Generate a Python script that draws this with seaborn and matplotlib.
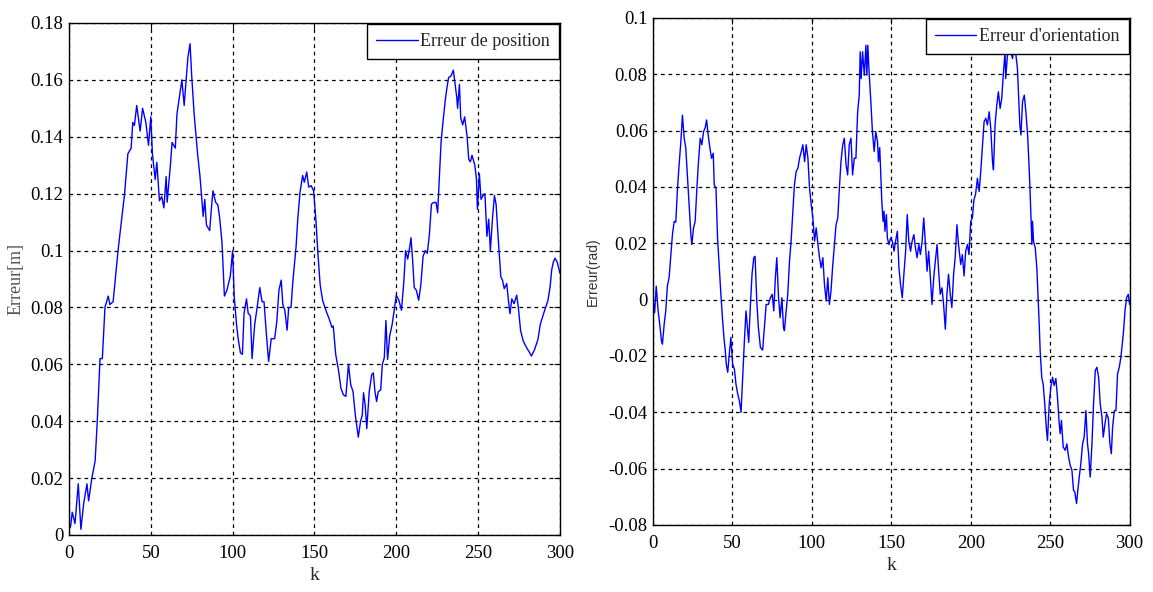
import numpy as np
import pandas as pd
import matplotlib
matplotlib.use('Agg')
import matplotlib.pyplot as plt
import seaborn as sns

# Erreur de position
k_pos = [0, 1, 2, 3.7, 5.7, 7.3, 9, 11, 12, 14, 16, 17.3, 19, 20.4, 22, 24, 25, 27, 30, 32,
         34, 36, 38, 39, 40, 41.4, 43.5, 45, 47, 48.6, 50, 51, 52.7, 53.7, 55.3, 56.7, 58, 59.4, 60, 62,
         63, 65, 66, 67.5, 69, 70.4, 71.6, 72.7, 74, 75, 76.5, 78.6, 80, 81, 82, 83, 84, 86, 87, 88,
         89.6, 91, 92, 93.5, 95, 96.5, 98.6, 100, 101, 102.4, 103.4, 104.8, 106, 107, 108.5, 109.5, 110.9, 111.9, 113.5, 115,
         116.6, 118, 119.2, 120.6, 122, 123.6, 125.7, 127, 128.3, 129.7, 130.7, 131.9, 133.3, 134.3, 135.7, 136.8, 138.8, 139.8, 141.2, 142.8,
         143.8, 145.3, 146.5, 148, 149.5, 151, 152, 153.5, 155, 157, 159, 160.7, 161.5, 163, 164.8, 166.2, 167.7, 169.2, 170.8, 172.2,
         173.6, 175, 176.8, 178.2, 179.2, 180, 181, 182, 183.5, 185, 186, 187, 188, 189, 190.5, 191.5, 192.7, 193.7, 194.7, 196,
         197.5, 198.5, 200, 201.6, 203.2, 204.7, 205.7, 207, 208.3, 209, 210, 211, 212.3, 213.7, 215, 216.4, 217.8, 219, 220.3, 221.5,
         222.9, 224.3, 225.3, 226.3, 227.4, 228.6, 230, 231, 232, 233.5, 234.9, 235.7, 237, 237.5, 238.6, 239.4, 240.6, 241.8, 243.3, 244.3,
         245.3, 246.3, 248, 249, 249.6, 250.8, 251.8, 253, 254.2, 255.4, 256.5, 257.5, 258.9, 260, 261, 262.5, 263.9, 264.9, 266, 267.5,
         269, 269.5, 270.6, 272, 273.6, 274.6, 276, 277.6, 279.6, 281.6, 282.6, 284.6, 286.6, 288, 289.7, 291.3, 292.7, 294, 295, 296,
         297, 298.3, 299.3, 300]
err_pos = [0.002, 0.003, 0.008, 0.004, 0.018, 0.002, 0.011, 0.018, 0.012, 0.020, 0.026, 0.040, 0.062, 0.062, 0.080, 0.084, 0.081, 0.082, 0.100, 0.110,
           0.120, 0.134, 0.136, 0.145, 0.144, 0.151, 0.142, 0.150, 0.145, 0.137, 0.147, 0.134, 0.125, 0.131, 0.1175, 0.119, 0.115, 0.126, 0.117, 0.130,
           0.138, 0.136, 0.148, 0.154, 0.160, 0.151, 0.160, 0.168, 0.1727, 0.1615, 0.148, 0.134, 0.1265, 0.1195, 0.112, 0.118, 0.109, 0.107, 0.1145, 0.121,
           0.117, 0.116, 0.112, 0.103, 0.084, 0.086, 0.091, 0.100, 0.0837, 0.074, 0.069, 0.064, 0.0635, 0.078, 0.083, 0.078, 0.077, 0.062, 0.074, 0.080,
           0.087, 0.082, 0.082, 0.071, 0.061, 0.069, 0.069, 0.075, 0.086, 0.0896, 0.081, 0.079, 0.072, 0.080, 0.080, 0.089, 0.1015, 0.111, 0.1205, 0.1264,
           0.124, 0.1276, 0.1223, 0.1228, 0.121, 0.110, 0.100, 0.088, 0.0825, 0.079, 0.076, 0.073, 0.0735, 0.0635, 0.0576, 0.0516, 0.0493, 0.0487, 0.060, 0.0528,
           0.0504, 0.0421, 0.0344, 0.040, 0.042, 0.050, 0.0457, 0.0374, 0.0504, 0.0564, 0.057, 0.0504, 0.0469, 0.0504, 0.051, 0.060, 0.0623, 0.0754, 0.0617, 0.070,
           0.074, 0.078, 0.0843, 0.0825, 0.079, 0.0896, 0.100, 0.097, 0.1015, 0.1045, 0.0967, 0.087, 0.086, 0.0825, 0.0878, 0.098, 0.100, 0.099, 0.106, 0.1163,
           0.1169, 0.1169, 0.1133, 0.1252, 0.1382, 0.1454, 0.1531, 0.1573, 0.1608, 0.1614, 0.1634, 0.1596, 0.1537, 0.150, 0.1584, 0.1466, 0.1442, 0.147, 0.140, 0.132,
           0.1312, 0.1335, 0.130, 0.1252, 0.1145, 0.127, 0.118, 0.1193, 0.120, 0.105, 0.111, 0.100, 0.112, 0.1193, 0.1163, 0.1026, 0.0908, 0.0896, 0.0866, 0.0884,
           0.080, 0.0778, 0.083, 0.0813, 0.0843, 0.080, 0.0718, 0.0682, 0.0659, 0.064, 0.0629, 0.0653, 0.0688, 0.074, 0.0772, 0.080, 0.0825, 0.0872, 0.0932, 0.096,
           0.0973, 0.096, 0.0938, 0.092]

# Erreur d'orientation
k_ori = [0, 1, 2, 3.2, 4.2, 5.3, 5.9, 7, 8, 9, 10.1, 11.2, 12.2, 13.3, 14.3, 15.4, 16.4, 17.5, 18.5, 19.6,
         20.6, 21.7, 22.7, 23.8, 24.4, 25.5, 26.5, 27.6, 28.6, 29.7, 30.7, 31.8, 32.8, 33.7, 34.7, 35.8, 36.8, 37.9, 38.5, 39.6,
         40.6, 41.7, 42.7, 43.8, 44.8, 45.5, 46.1, 47, 48, 49, 50.1, 51.2, 52.2, 53.3, 54.3, 55.4, 56.4, 57.5, 58.5, 59.6,
         60.2, 61.3, 62.3, 63.4, 64.2, 65.3, 66.3, 67.6, 69, 70.1, 71.2, 72.6, 73.9, 75, 76, 77, 77.9, 79, 80, 81.1,
         82.1, 82.7, 83.8, 84.8, 85.9, 86.9, 88, 89, 90.1, 91.2, 92.2, 93.3, 94.3, 95.4, 96.4, 97.5, 98.5, 99.6, 100.6, 101.7,
         102.7, 103.8, 104.8, 105.8, 106.9, 107.9, 109, 110, 111, 112, 113, 114.2, 115.2, 116.3, 117.3, 118.3, 119.4, 120.4, 121.5, 122.5,
         123.5, 124.6, 125.6, 126.7, 127.7, 128.8, 129.8, 130.4, 131, 131.9, 133, 134, 134.6, 135.2, 136, 137.1, 138.1, 139.2, 140.2, 141.3,
         141.9, 142.7, 143.3, 144, 144.8, 145.4, 146, 146.9, 147.5, 148.5, 149.6, 150.6, 151.7, 152.7, 153.8, 154.8, 155.8, 156.9, 157.9, 159,
         160, 161, 162.1, 163.1, 164.2, 165.2, 166.2, 167.3, 168.3, 169.4, 170.4, 171.5, 172.5, 173.5, 174.6, 175.6, 176.7, 177.7, 178.8, 179.8,
         180.8, 181.9, 182.9, 184, 185, 186, 187.1, 188.1, 189.2, 190.2, 191.3, 192.3, 193.7, 194.7, 195.8, 196.8, 197.9, 198.9, 200, 201,
         202, 203, 204.2, 205.3, 206.3, 207.4, 208.4, 209.5, 210.5, 211.6, 212.6, 213.7, 214.3, 215.3, 216.4, 217.4, 218.5, 219.5, 220.6, 221.6,
         222, 223.1, 224.2, 225.2, 226.3, 227.3, 228.4, 229.4, 230.1, 230.9, 231.6, 232.6, 233.7, 234.7, 235.8, 236.4, 237.2, 237.9, 238.5, 238.9,
         239.5, 240.6, 241.6, 242.4, 243.1, 243.7, 244.7, 245.6, 246.6, 247.7, 248.3, 249.4, 250.4, 251.5, 252.5, 253.6, 254.6, 255.7, 256.3, 257.1,
         258.2, 259.5, 260.5, 261.6, 262.6, 263.7, 264.7, 265.5, 266.6, 267.4, 268.3, 269.3, 270.4, 271.4, 272.5, 273.5, 274.2, 275.2, 276.3, 277.3,
         278.4, 279.4, 280.5, 281.5, 282.6, 283.4, 284.5, 285.5, 286.6, 287.6, 288.5, 289.3, 290.4, 291.4, 292.4, 293.5, 294.5, 295.6, 296.2, 297.1,
         298.1, 299.2, 300]
err_ori = [0.0, -0.0046, 0.0048, -0.004, -0.0087, -0.0146, -0.0158, -0.0087, -0.004, 0.0048, 0.0078, 0.016, 0.0231, 0.0278, 0.0275, 0.0396, 0.0479, 0.0561, 0.0655, 0.0573,
           0.0538, 0.0431, 0.0337, 0.0231, 0.0196, 0.0255, 0.0278, 0.0396, 0.049, 0.0573, 0.055, 0.0597, 0.061, 0.0638, 0.0585, 0.0538, 0.0502, 0.052, 0.0408, 0.0396,
           0.0219, 0.0113, 0.0019, -0.0075, -0.0146, -0.0182, -0.0229, -0.0258, -0.0193, -0.0134, -0.0229, -0.0246, -0.030, -0.0335, -0.0358, -0.040, -0.0276, -0.0146, -0.004, -0.011,
           -0.0152, -0.0017, 0.009, 0.0149, 0.0154, -0.0005, -0.0099, -0.017, -0.0179, -0.0099, -0.0017, -0.0017, 0.0007, 0.0019, -0.004, 0.0078, 0.0149, 0.0007, -0.0064, 0.0007,
           -0.0099, -0.011, -0.004, 0.0019, 0.0137, 0.0208, 0.0314, 0.0408, 0.0455, 0.0467, 0.0502, 0.0526, 0.055, 0.049, 0.055, 0.0502, 0.0396, 0.0337, 0.029, 0.0208,
           0.0255, 0.0196, 0.0149, 0.0113, 0.0149, 0.0054, -0.0005, 0.0078, -0.0017, 0.003, 0.0113, 0.0196, 0.0266, 0.029, 0.0396, 0.049, 0.055, 0.0573, 0.0479, 0.0443,
           0.055, 0.0573, 0.0443, 0.0502, 0.0502, 0.0667, 0.0726, 0.088, 0.0785, 0.088, 0.0797, 0.0903, 0.0797, 0.0903, 0.0809, 0.0703, 0.0597, 0.0526, 0.0597, 0.0561,
           0.049, 0.054, 0.0455, 0.0349, 0.0278, 0.0314, 0.0243, 0.0302, 0.0219, 0.0196, 0.0219, 0.0208, 0.0172, 0.0208, 0.0243, 0.0113, 0.0054, 0.0007, 0.009, 0.0172,
           0.0302, 0.0208, 0.0172, 0.0208, 0.0231, 0.0184, 0.0149, 0.0196, 0.016, 0.0208, 0.029, 0.0196, 0.0101, 0.0172, 0.0078, -0.0017, 0.0078, 0.0137, 0.0196, 0.0101,
           0.0019, 0.0042, -0.0017, -0.0105, 0.0019, 0.009, 0.0019, -0.0028, 0.009, 0.0149, 0.0266, 0.0196, 0.0125, 0.016, 0.0084, 0.0172, 0.0196, 0.016, 0.0278, 0.029,
           0.0355, 0.0373, 0.0431, 0.0384, 0.0455, 0.055, 0.0632, 0.0644, 0.062, 0.0667, 0.0608, 0.049, 0.0461, 0.062, 0.0691, 0.0738, 0.0679, 0.0714, 0.0809, 0.088,
           0.0785, 0.0868, 0.092, 0.088, 0.0856, 0.091, 0.087, 0.082, 0.0726, 0.062, 0.0585, 0.0703, 0.0726, 0.0667, 0.0585, 0.0514, 0.0408, 0.029, 0.0196, 0.0278,
           0.0208, 0.0184, 0.0113, 0.0007, -0.0087, -0.0182, -0.0276, -0.030, -0.037, -0.0465, -0.050, -0.037, -0.0311, -0.0276, -0.0305, -0.028, -0.0347, -0.0441, -0.0476, -0.0429,
           -0.0523, -0.0535, -0.0512, -0.0559, -0.0588, -0.0606, -0.0677, -0.0683, -0.0724, -0.0677, -0.063, -0.0582, -0.0512, -0.0488, -0.0394, -0.0512, -0.0547, -0.063, -0.0512, -0.037,
           -0.0252, -0.024, -0.0276, -0.037, -0.0417, -0.0488, -0.0441, -0.0405, -0.042, -0.0512, -0.0547, -0.0453, -0.0394, -0.0394, -0.0264, -0.024, -0.0205, -0.0146, -0.011, -0.004,
           0.0007, 0.0019, -0.0017]

pos_ticks = [0, 0.02, 0.04, 0.06, 0.08, 0.1, 0.12, 0.14, 0.16, 0.18]
pos_labels = ['0', '0.02', '0.04', '0.06', '0.08', '0.1', '0.12', '0.14', '0.16', '0.18']
ori_ticks = [-0.08, -0.06, -0.04, -0.02, 0, 0.02, 0.04, 0.06, 0.08, 0.1]
ori_labels = ['-0.08', '-0.06', '-0.04', '-0.02', '0', '0.02', '0.04', '0.06', '0.08', '0.1']
k_ticks = [0, 50, 100, 150, 200, 250, 300]

sns.set_style("white")
plt.rcParams['font.family'] = ['Liberation Serif', 'DejaVu Serif']

df_pos = pd.DataFrame({'k': k_pos, 'err': err_pos})
df_ori = pd.DataFrame({'k': k_ori, 'err': err_ori})

fig = plt.figure(figsize=(11.53, 5.92), dpi=100)
ax1 = fig.add_axes([0.0598, 0.0963, 0.4258, 0.8649])
ax2 = fig.add_axes([0.5664, 0.1132, 0.4133, 0.8564])

sns.lineplot(data=df_pos, x='k', y='err', ax=ax1, color='#0000ff', linewidth=1,
             label='Erreur de position', estimator=None, sort=False)
sns.lineplot(data=df_ori, x='k', y='err', ax=ax2, color='#0000ff', linewidth=1,
             label="Erreur d'orientation", estimator=None, sort=False)

for ax, ticks, labels, lims in [(ax1, pos_ticks, pos_labels, (0, 0.18)),
                                (ax2, ori_ticks, ori_labels, (-0.08, 0.1))]:
    ax.set_xlim(0, 300)
    ax.set_ylim(*lims)
    ax.set_xticks(k_ticks)
    ax.set_xticklabels([str(t) for t in k_ticks])
    ax.set_yticks(ticks)
    ax.set_yticklabels(labels)
    ax.grid(True, color='black', linestyle=(0, (3, 3)), linewidth=0.9)
    ax.tick_params(direction='in', length=4, labelsize=13.5, colors='black',
                   top=True, right=True)
    ax.tick_params(axis='x', pad=7)
    ax.tick_params(axis='y', pad=4)
    for s in ax.spines.values():
        s.set_color('black')
        s.set_linewidth(1.0)
    ax.set_xlabel('k', fontsize=14, labelpad=4)
    leg = ax.legend(loc='upper right', fontsize=13, frameon=True, fancybox=False,
                    borderaxespad=0.05, handlelength=2.3, handletextpad=0.15,
                    borderpad=0.5)
    leg.get_frame().set_edgecolor('black')
    leg.get_frame().set_linewidth(1.0)
    leg.get_frame().set_alpha(1)

ax1.set_ylabel('Erreur[m]', fontsize=13, color='#555555', labelpad=4)
ax2.set_ylabel('Erreur(rad)', fontsize=10, color='#333333', labelpad=6,
               family=['Liberation Sans', 'DejaVu Sans'])

fig.savefig('out.png', dpi=100)
